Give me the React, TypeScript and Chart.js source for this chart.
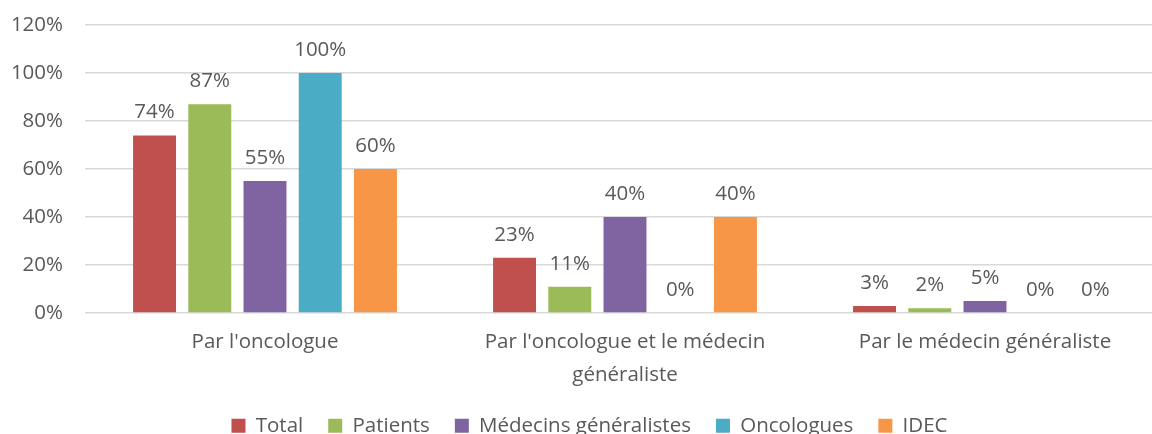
import React, { useEffect, useRef } from "react";
import { Chart, registerables } from "chart.js";

Chart.register(...registerables);

const categories: (string | string[])[] = [
  "Par l'oncologue",
  ["Par l'oncologue et le médecin", "généraliste"],
  "Par le médecin généraliste",
];
const seriesNames = ["Total", "Patients", "Médecins généralistes", "Oncologues", "IDEC"];
const totalValues = [74, 23, 3];
const patientsValues = [87, 11, 2];
const medecinsValues = [55, 40, 5];
const oncologuesValues = [100, 0, 0];
const idecValues = [60, 40, 0];
const seriesColors = ["#C0504D", "#9BBB59", "#8064A2", "#4BACC6", "#F79646"];
const yTicks = [0, 20, 40, 60, 80, 100, 120];

const FONT = "'Open Sans', 'DejaVu Sans', sans-serif";
const TEXT = "#595959";
const FS = 20.5;

const dataLabelPlugin = {
  id: "dataLabels",
  afterDatasetsDraw(chart: any) {
    const ctx = chart.ctx;
    ctx.save();
    ctx.fillStyle = TEXT;
    ctx.font = `${FS}px ${FONT}`;
    ctx.textAlign = "center";
    ctx.textBaseline = "alphabetic";
    chart.data.datasets.forEach((ds: any, i: number) => {
      const meta = chart.getDatasetMeta(i);
      meta.data.forEach((bar: any, j: number) => {
        ctx.fillText(`${ds.data[j]}%`, bar.x, bar.y - 17);
      });
    });
    ctx.restore();
  },
};

const legendShiftPlugin = {
  id: "legendShift",
  afterLayout(chart: any) {
    const lg = chart.legend;
    if (lg) {
      lg.left += 7;
      lg.right += 7;
    }
  },
};

export default function App() {
  const ref = useRef<HTMLCanvasElement>(null);
  useEffect(() => {
    document.body.style.margin = "0";
    const all = [totalValues, patientsValues, medecinsValues, oncologuesValues, idecValues];
    const chart = new Chart(ref.current!, {
      type: "bar",
      data: {
        labels: categories,
        datasets: all.map((vals, i) => ({
          label: seriesNames[i],
          data: vals,
          backgroundColor: seriesColors[i],
          categoryPercentage: 0.767,
          barPercentage: 0.778,
        })),
      },
      options: {
        animation: false,
        responsive: false,
        maintainAspectRatio: false,
        layout: { padding: { top: 25, right: 0, bottom: -12, left: 0 } },
        plugins: {
          legend: {
            position: "bottom",
            labels: {
              color: TEXT,
              font: { family: FONT, size: FS },
              boxWidth: 14,
              boxHeight: 14,
              padding: 25,
            },
          },
          tooltip: { enabled: false },
        },
        scales: {
          x: {
            grid: { display: false, drawTicks: false },
            border: { display: false },
            afterFit(scale: any) {
              scale.height = scale.height - 13;
            },
            ticks: { color: TEXT, font: { family: FONT, size: FS, lineHeight: 1.62 }, padding: 12, maxRotation: 0 },
          },
          y: {
            min: 0,
            max: 120,
            afterBuildTicks(scale: any) {
              scale.ticks = yTicks.map((v) => ({ value: v }));
            },
            afterFit(scale: any) {
              scale.width = 85;
            },
            grid: {
              color: "#D9D9D9",
              lineWidth: 1.5,
              drawTicks: true,
              tickLength: 22,
              tickColor: "rgba(0,0,0,0)",
            },
            border: { display: false },
            ticks: {
              color: TEXT,
              font: { family: FONT, size: FS },
              padding: 0,
              callback: (v: any) => `${v}%`,
            },
          },
        },
      },
      plugins: [dataLabelPlugin, legendShiftPlugin],
    });
    return () => chart.destroy();
  }, []);
  return (
    <div style={{ width: 1152, height: 434, overflow: "hidden" }}>
      <canvas ref={ref} width={1165} height={434} style={{ display: "block" }} />
    </div>
  );
}
